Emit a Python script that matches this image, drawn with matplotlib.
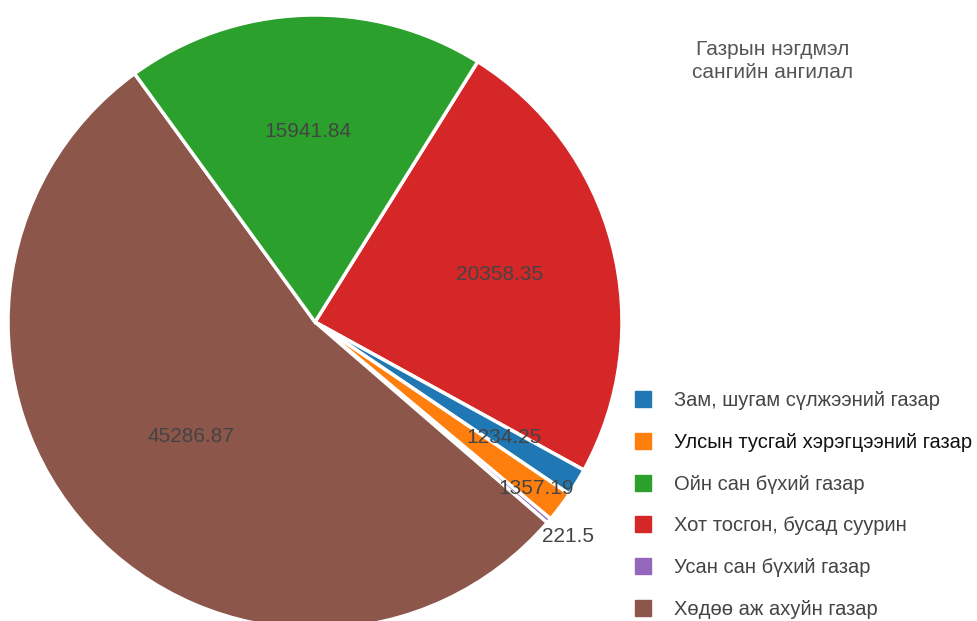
import matplotlib
matplotlib.use('Agg')
import numpy as np
import matplotlib.pyplot as plt
from matplotlib.lines import Line2D

plt.rcParams['font.family'] = ['Liberation Sans', 'DejaVu Sans']

# data
categories = ['Зам, шугам сүлжээний газар', 'Улсын тусгай хэрэгцээний газар',
              'Ойн сан бүхий газар', 'Хот тосгон, бусад суурин',
              'Усан сан бүхий газар', 'Хөдөө аж ахуйн газар']
values = [1234.25, 1357.19, 15941.84, 20358.35, 221.5, 45286.87]
value_text = ['1234.25', '1357.19', '15941.84', '20358.35', '221.5', '45286.87']
colors = ['#1f77b4', '#ff7f0e', '#2ca02c', '#d62728', '#9467bd', '#8c564b']
title = 'Газрын нэгдмэл\nсангийн ангилал'

# clockwise order of slices, starting at the top right
pie_order = [3, 0, 1, 4, 5, 2]

fig = plt.figure(figsize=(9.77, 6.21), dpi=100)
ax = fig.add_axes([8 / 977, -8 / 621, 614 / 977, 614 / 621])

wedges, _ = ax.pie([values[i] for i in pie_order],
                   colors=[colors[i] for i in pie_order],
                   startangle=58, counterclock=False, radius=1,
                   wedgeprops=dict(edgecolor='white', linewidth=2.5))
ax.set_xlim(-1, 1)
ax.set_ylim(-1, 1)
ax.axis('off')

# label distance from centre (small slices staggered so the text doesn't pile up)
label_r = {0: 0.72, 1: 0.9, 4: 1.08, 2: 0.62, 3: 0.62, 5: 0.55}
for w, i in zip(wedges, pie_order):
    mid = np.deg2rad((w.theta1 + w.theta2) / 2)
    r = label_r[i]
    ax.text(r * np.cos(mid), r * np.sin(mid), value_text[i], ha='center', va='center',
            fontsize=15, color='#444444', clip_on=False)

handles = [Line2D([], [], marker='s', ls='', color=c, markersize=12) for c in colors]
leg = fig.legend(handles, categories, loc='upper left', bbox_to_anchor=(623 / 977, 1 - 381 / 621),
                 frameon=False, fontsize=14.5, labelspacing=1.13, handletextpad=1.05,
                 handlelength=1.0, borderpad=0)
for t in leg.get_texts():
    t.set_color('#444444')
leg.get_texts()[1].set_color('#111111')

fig.text(773 / 977, 1 - 61 / 621, title, ha='center', va='center', fontsize=15,
         color='#555555', linespacing=1.3)

fig.savefig('out.png', dpi=100)
